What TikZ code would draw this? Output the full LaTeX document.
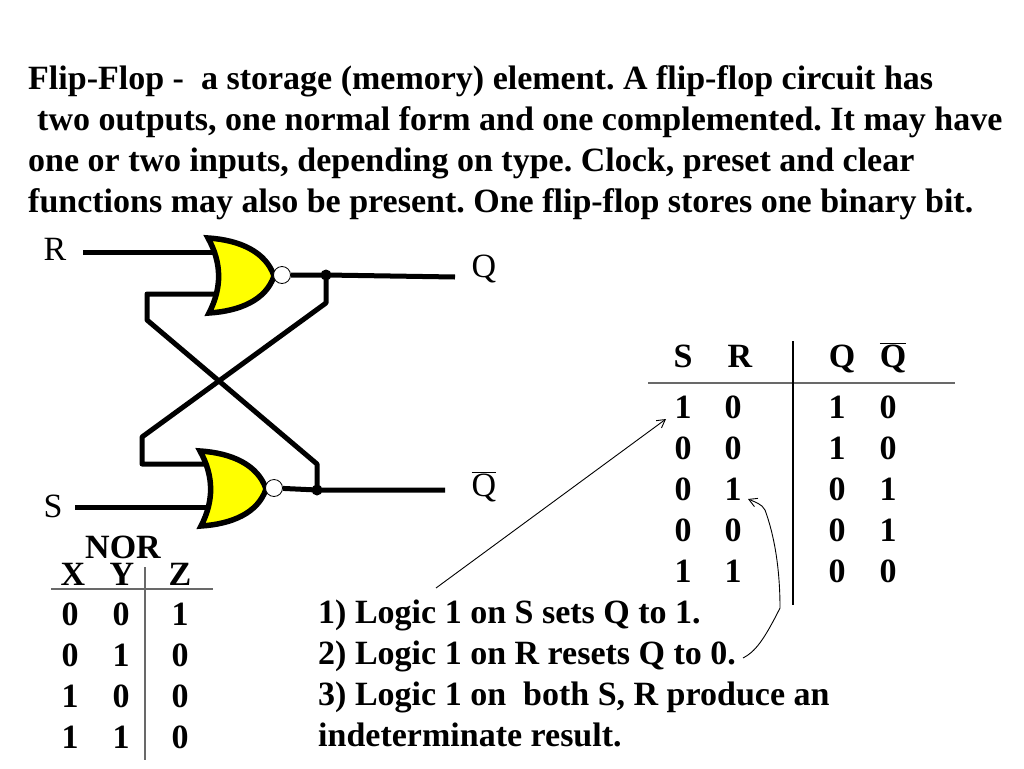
\documentclass[tikz,border=0pt]{standalone}
\usepackage{fontspec}
\setmainfont{Liberation Serif}
\usetikzlibrary{arrows.meta}
\definecolor{gatefill}{RGB}{255,255,0}
\definecolor{rulegray}{RGB}{105,105,105}
\newcommand{\Qbar}{$\overline{\mbox{Q}}$}
\frenchspacing
\tikzset{
  every node/.style={inner sep=0pt},
  para/.style={anchor=north west,align=left,font=\fontsize{34}{41}\selectfont\bfseries},
  cell/.style={font=\fontsize{34}{36}\selectfont\bfseries},
  pinlabel/.style={font=\fontsize{34}{36}\selectfont},
  wire/.style={line width=5pt,line join=round},
  rulee/.style={rulegray,line width=1.6pt},
  note/.style={line width=0.9pt,->,>={Straight Barb[length=8pt,width=9pt]}},
  bubble/.style={circle,draw,fill=white,line width=0.8pt,minimum size=17pt},
  dot/.style={circle,fill=black,minimum size=11pt},
  norbody/.pic={
    \draw[fill=gatefill,line width=5.5pt,line join=miter]
      (0,0) .. controls (14,25) and (14,50) .. (1,75)
      .. controls (32,73) and (58,62) .. (66,38)
      .. controls (58,14) and (32,2) .. cycle;
  }
}
\begin{document}
\begin{tikzpicture}[x=1pt,y=-1pt]
  \useasboundingbox (0,0) rectangle (1024,768);

  \node[para] (intro) at (28,65) {Flip-Flop -\ \ a storage (memory) element. A flip-flop circuit has\\
    \hspace*{9pt}two outputs, one normal form and one complemented. It may have\\
    one or two inputs, depending on type. Clock, preset and clear\\
    functions may also be present. One flip-flop stores one binary bit.};

  % latch
  \node[pinlabel] (R) at (55,249) {R};
  \node[pinlabel] (S) at (53,506) {S};
  \node[pinlabel] (Q) at (484,269) {Q};
  \node[pinlabel] (Qn) at (484,487) {\Qbar};

  \coordinate (Rin) at (83,252);
  \coordinate (Rgate) at (214,252);
  \coordinate (Sin) at (75,507);
  \coordinate (Sgate) at (206,507);
  \coordinate (Qout) at (455,277);
  \coordinate (Qnout) at (445,490);
  \coordinate (topin) at (216,294);
  \coordinate (topa) at (147,294);
  \coordinate (topb) at (147,320);
  \coordinate (botin) at (204,464);
  \coordinate (bota) at (142,464);
  \coordinate (botb) at (142,437);
  \coordinate (fbq) at (326,303);
  \coordinate (fbqn) at (317,464);

  \node[dot] (Qdot) at (326,275) {};
  \node[dot] (Qndot) at (317,490) {};

  \draw[wire] (Rin) -- (Rgate);
  \draw[wire] (Sin) -- (Sgate);
  \draw[wire] (topin) -- (topa) -- (topb) -- (fbqn) -- (Qndot.center);
  \draw[wire] (botin) -- (bota) -- (botb) -- (fbq) -- (Qdot.center);

  \pic at (208,238) {norbody};
  \pic at (200,451) {norbody};
  \node[bubble] (topnot) at (282,275) {};
  \node[bubble] (botnot) at (274,488) {};

  \draw[wire] (topnot) -- (Qdot.center) -- (Qout);
  \draw[wire] (botnot) -- (Qndot.center) -- (Qnout);

  % NOR table
  \node[cell] (nor) at (123,547) {NOR};
  \foreach \name/\x/\txt in {X/73/X,Y/122/Y,Z/180/Z}
    \node[cell] (\name) at (\x,574) {\txt};
  \foreach \y/\a/\b/\c in {614/0/0/1,655/0/1/0,696/1/0/0,737/1/1/0} {
    \node[cell] at (70,\y) {\a};
    \node[cell] at (121,\y) {\b};
    \node[cell] at (180,\y) {\c};
  }
  \coordinate (norl) at (51,589);
  \coordinate (norr) at (213,589);
  \coordinate (nort) at (145,567);
  \coordinate (norb) at (145,760);
  \draw[rulee] (norl) -- (norr);
  \draw[rulee] (nort) -- (norb);

  % state table
  \node[cell] (hS) at (683,356) {S};
  \node[cell] (hR) at (740,356) {R};
  \node[cell,anchor=base] (hQ) at (842,367) {Q};
  \node[cell,anchor=base] (hQn) at (893,367) {\Qbar};
  \foreach \y/\a/\b/\c/\d/\name in {407/1/0/1/0/ra,448/0/0/1/0/rb,489/0/1/0/1/rc,530/0/0/0/1/rd,571/1/1/0/0/re} {
    \node[cell] (\name s) at (683,\y) {\a};
    \node[cell] (\name r) at (733,\y) {\b};
    \node[cell] (\name q) at (837,\y) {\c};
    \node[cell] (\name n) at (888,\y) {\d};
  }
  \coordinate (statl) at (648,383);
  \coordinate (statr) at (955,383);
  \coordinate (statt) at (793,341);
  \coordinate (statb) at (793,605);
  \draw[rulee] (statl) -- (statr);
  \draw[rulee,black] (statt) -- (statb);

  % notes
  \node[para] (rules) at (318,600) {1) Logic 1 on S sets Q to 1.\\
    2) Logic 1 on R resets Q to 0.\\
    3) Logic 1 on\ \ both S, R produce an\\
    indeterminate result.};

  \coordinate (setstart) at (436,588);
  \coordinate (setend) at (666,419);
  \coordinate (resetstart) at (743,658);
  \coordinate (resetend) at (748,499);
  \draw[note] (setstart) -- (setend);
  \draw[note] (resetstart) .. controls (755,652) and (764,640) .. (780,608)
    .. controls (780,575) and (776,540) .. (765,510)
    .. controls (762,504) and (755,502) .. (resetend);
\end{tikzpicture}
\end{document}
